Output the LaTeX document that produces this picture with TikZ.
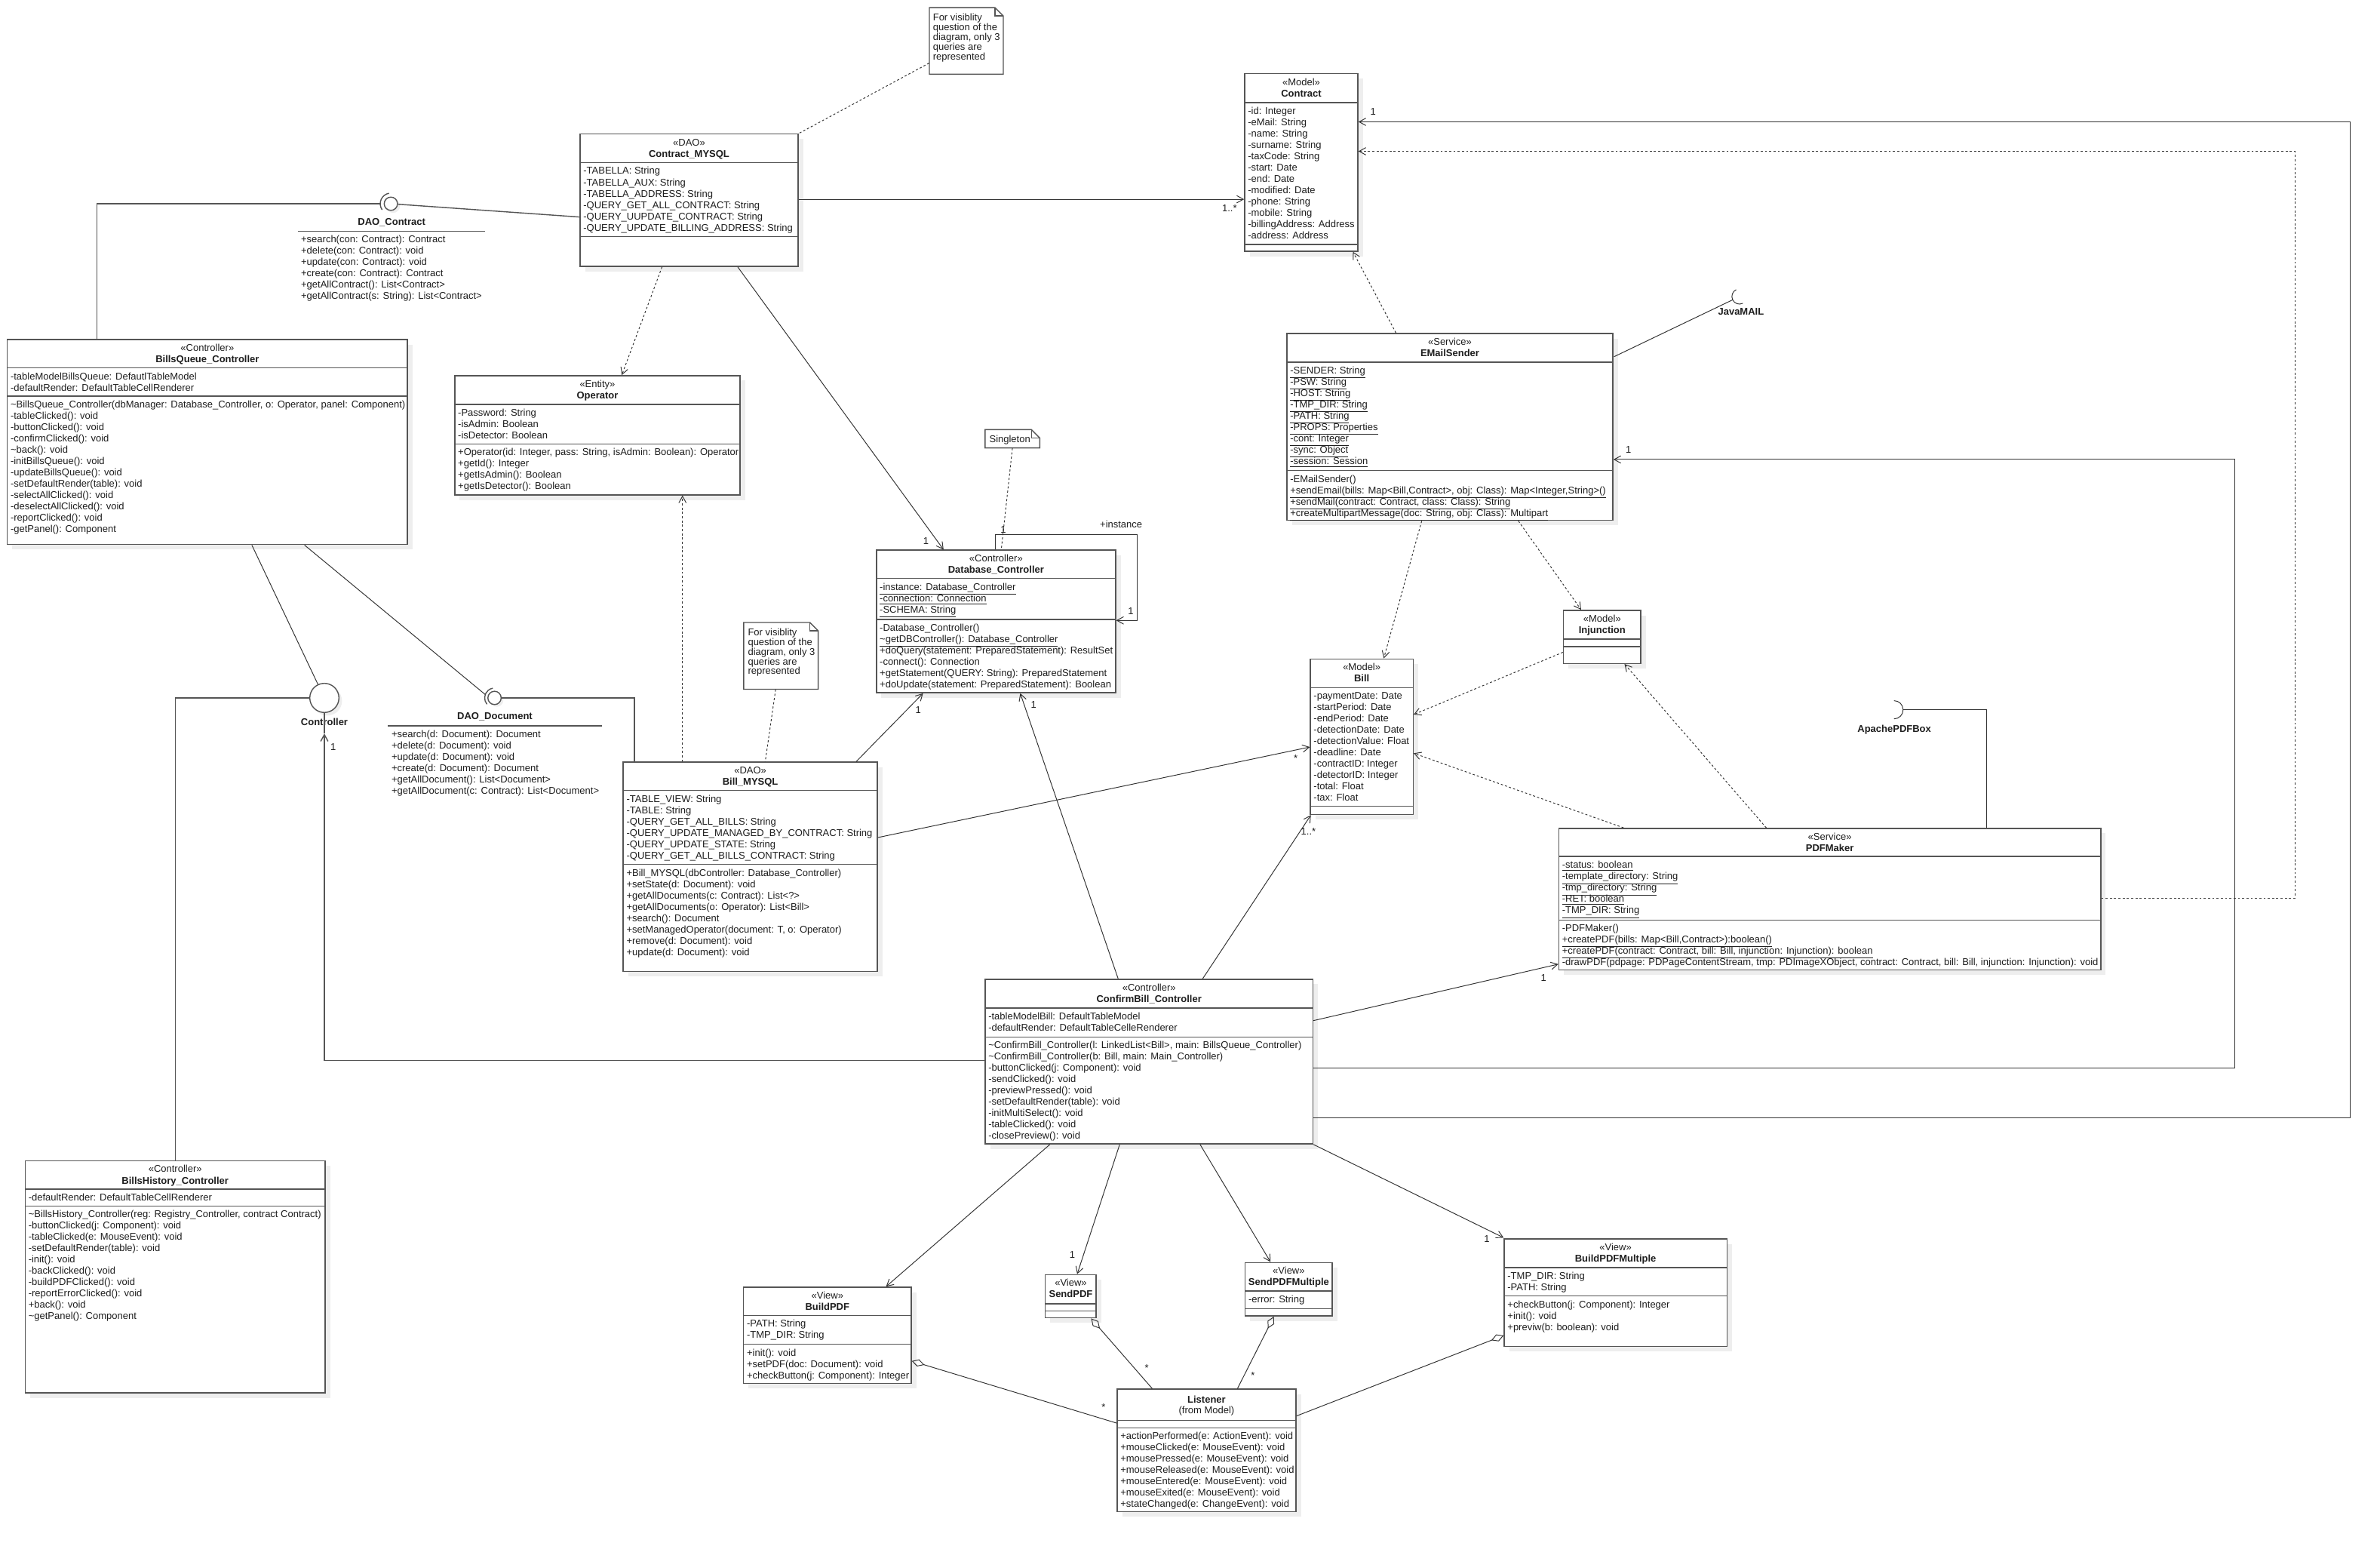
\documentclass[tikz,border=0pt]{standalone}
\usepackage{fontspec}
\setmainfont{Liberation Sans}
\usetikzlibrary{arrows.meta, calc, fit}

\definecolor{umlgray}{HTML}{555555}
\definecolor{umlshade}{HTML}{EEEEEE}
\definecolor{umltext}{HTML}{1E1E1E}

\newcommand{\umlfont}{\fontsize{7.35}{8.49}\selectfont}

\tikzset{
  umlbox/.style={draw=umlgray, line width=0.8pt, fill=white, inner sep=0pt},
  umlframe/.style={draw=umlgray, line width=0.8pt},
  shadow/.style={fill=umlshade, draw=none},
  ball/.style={circle, draw=umlgray, line width=0.8pt, fill=white, inner sep=0pt, minimum size=3.5mm},
  member/.style={anchor=base west, inner sep=0pt, font=\umlfont, text=umltext},
  stereo/.style={anchor=base, inner sep=0pt, font=\umlfont, text=umltext},
  ctitle/.style={anchor=base, inner sep=0pt, font=\umlfont\bfseries, text=umltext},
  lbl/.style={inner sep=0pt, font=\umlfont, text=umltext},
  link/.style={draw=black!80, line width=0.55pt},
  assoc/.style={link, -{Straight Barb[length=5pt,width=5.5pt]}},
  depend/.style={assoc, dash pattern=on 1.6pt off 1.6pt},
  notelink/.style={link, dash pattern=on 1.6pt off 1.6pt},
  aggr/.style={link, {Diamond[open,length=10pt,width=5.5pt]}-},
}

% class box: name, x1, y1, x2, y2, header bottom, attribute bottom, stereotype, title
\newcommand{\umlclass}[9]{%
  \fill[shadow] ({#2+3.3},{#3+3.3}) rectangle ({#4+3.3},{#5+3.3});
  \node[umlbox, fit={(#2,#3) (#4,#5)}] (#1) {};
  \draw[umlframe] (#2,#6) -- (#4,#6) (#2,#7) -- (#4,#7);
  \node[stereo] (#1-stereo) at ({(#2+#4)/2},{#3+7.7}) {#8};
  \node[ctitle] (#1-name) at ({(#2+#4)/2},{#3+15.2}) {#9};
}
% one line per member
\newcommand{\members}[4]{%
  \foreach \mem [count=\idx] in {#4} {\node[member] (#1-\idx) at (#2,{#3+(\idx-1)*7.46}) {\mem};}
}
\newcommand{\notelines}[4]{%
  \foreach \mem [count=\idx] in {#4} {\node[member] (#1-\idx) at (#2,{#3+(\idx-1)*6.45}) {\mem};}
}
% note with folded corner
\newcommand{\umlnote}[5]{%
  \node[inner sep=0pt, fit={(#2,#3) (#4,#5)}] (#1) {};
  \draw[umlframe, fill=white] (#2,#3) -- ({#4-5.5},#3) -- (#4,{#3+5.5}) -- (#4,#5) -- (#2,#5) -- cycle;
  \draw[umlframe] ({#4-5.5},#3) -- ({#4-5.5},{#3+5.5}) -- (#4,{#3+5.5});
}

\begin{document}
\begin{tikzpicture}[x=0.4mm, y=-0.4mm]
\useasboundingbox (0,0) rectangle (1568,1016);
\fill[white] (0,0) rectangle (1568,1016);

% ---------- classes
\umlclass{cmysql}{382.2}{88.3}{525.8}{175.5}{107.2}{155.7}{«DAO»}{Contract\_MYSQL}
\members{cmysql-a}{384.2}{114.8}{-TABELLA: String, -TABELLA\_AUX: String, -TABELLA\_ADDRESS: String, -QUERY\_GET\_ALL\_CONTRACT: String, -QUERY\_UUPDATE\_CONTRACT: String, -QUERY\_UPDATE\_BILLING\_ADDRESS: String}

\umlclass{contract}{820}{48.6}{894.6}{165.5}{67.6}{161}{«Model»}{Contract}
\members{contract-a}{822}{75.2}{-id: Integer, -eMail: String, -name: String, -surname: String, -taxCode: String, -start: Date, -end: Date, -modified: Date, -phone: String, -mobile: String, -billingAddress: Address, -address: Address}

\umlclass{email}{847.8}{219.6}{1062.6}{342.8}{238.6}{310}{«Service»}{EMailSender}
\members{email-a}{849.8}{246.2}{\underline{-SENDER: String}, \underline{-PSW: String}, \underline{-HOST: String}, \underline{-TMP\_DIR: String}, \underline{-PATH: String}, \underline{-PROPS: Properties}, \underline{-cont: Integer}, \underline{-sync: Object}, \underline{-session: Session}}
\members{email-o}{849.8}{317.6}{-EMailSender(), \underline{+sendEmail(bills: Map<Bill,Contract>, obj: Class): Map<Integer,String>()}, \underline{+sendMail(contract: Contract, class: Class): String}, \underline{+createMultipartMessage(doc: String, obj: Class): Multipart}}

\umlclass{oper}{299.6}{247.4}{487.6}{326}{266.4}{292.4}{«Entity»}{Operator}
\members{oper-a}{301.6}{274}{-Password: String, -isAdmin: Boolean, -isDetector: Boolean}
\members{oper-o}{301.6}{300}{{+Operator(id: Integer, pass: String, isAdmin: Boolean): Operator}, +getId(): Integer, +getIsAdmin(): Boolean, +getIsDetector(): Boolean}

\umlclass{dbc}{577.4}{362.4}{735}{456.3}{381}{408}{«Controller»}{Database\_Controller}
\members{dbc-a}{579.4}{388.8}{\underline{-instance: Database\_Controller}, \underline{-connection: Connection}, \underline{-SCHEMA: String}}
\members{dbc-o}{579.4}{415.6}{-Database\_Controller(), \underline{\textasciitilde getDBController(): Database\_Controller}, +doQuery(statement: PreparedStatement): ResultSet, -connect(): Connection, +getStatement(QUERY: String): PreparedStatement, +doUpdate(statement: PreparedStatement): Boolean}

\umlclass{bq}{4.8}{223.7}{268.4}{358.7}{242.4}{261}{«Controller»}{BillsQueue\_Controller}
\members{bq-a}{6.8}{250}{-tableModelBillsQueue: DefautlTableModel, -defaultRender: DefaultTableCellRenderer}
\members{bq-o}{6.8}{268.8}{{\textasciitilde BillsQueue\_Controller(dbManager: Database\_Controller, o: Operator, panel: Component)}, -tableClicked(): void, -buttonClicked(): void, -confirmClicked(): void, \textasciitilde back(): void, -initBillsQueue(): void, -updateBillsQueue(): void, -setDefaultRender(table): void, -selectAllClicked(): void, -deselectAllClicked(): void, -reportClicked(): void, -getPanel(): Component}

\umlclass{bmysql}{410.6}{502}{578}{640}{520.7}{569.4}{«DAO»}{Bill\_MYSQL}
\members{bmysql-a}{412.6}{528.3}{-TABLE\_VIEW: String, -TABLE: String, -QUERY\_GET\_ALL\_BILLS: String, -QUERY\_UPDATE\_MANAGED\_BY\_CONTRACT: String, -QUERY\_UPDATE\_STATE: String, -QUERY\_GET\_ALL\_BILLS\_CONTRACT: String}
\members{bmysql-o}{412.6}{577}{+Bill\_MYSQL(dbController: Database\_Controller), +setState(d: Document): void, +getAllDocuments(c: Contract): List<?>, +getAllDocuments(o: Operator): List<Bill>, +search(): Document, {+setManagedOperator(document: T, o: Operator)}, +remove(d: Document): void, +update(d: Document): void}

\umlclass{bill}{863.3}{434}{931}{536.5}{453}{531}{«Model»}{Bill}
\members{bill-a}{865.3}{460.6}{-paymentDate: Date, -startPeriod: Date, -endPeriod: Date, -detectionDate: Date, -detectionValue: Float, -deadline: Date, -contractID: Integer, -detectorID: Integer, -total: Float, -tax: Float}

\umlclass{inj}{1030}{402}{1081}{437}{421}{426}{«Model»}{Injunction}

\umlclass{pdfm}{1027}{545.6}{1384}{639}{564}{606}{«Service»}{PDFMaker}
\members{pdfm-a}{1029}{572}{\underline{-status: boolean}, \underline{-template\_directory: String}, \underline{-tmp\_directory: String}, \underline{-RET: boolean}, \underline{-TMP\_DIR: String}}
\members{pdfm-o}{1029}{613.6}{-PDFMaker(), \underline{+createPDF(bills: Map<Bill,Contract>):boolean()}, \underline{+createPDF(contract: Contract, bill: Bill, injunction: Injunction): boolean}, {-drawPDF(pdpage: PDPageContentStream, tmp: PDImageXObject, contract: Contract, bill: Bill, injunction: Injunction): void}}

\umlclass{cb}{649}{645}{865}{753.5}{664}{683}{«Controller»}{ConfirmBill\_Controller}
\members{cb-a}{651}{671.6}{-tableModelBill: DefaultTableModel, -defaultRender: DefaultTableCelleRenderer}
\members{cb-o}{651}{690.6}{{\textasciitilde ConfirmBill\_Controller(l: LinkedList<Bill>, main: BillsQueue\_Controller)}, {\textasciitilde ConfirmBill\_Controller(b: Bill, main: Main\_Controller)}, -buttonClicked(j: Component): void, -sendClicked(): void, -previewPressed(): void, -setDefaultRender(table): void, -initMultiSelect(): void, -tableClicked(): void, -closePreview(): void}

\umlclass{bh}{16.6}{764.6}{214.2}{917.5}{783.3}{794.4}{«Controller»}{BillsHistory\_Controller}
\members{bh-a}{18.6}{790.9}{-defaultRender: DefaultTableCellRenderer}
\members{bh-o}{18.6}{802}{{\textasciitilde BillsHistory\_Controller(reg: Registry\_Controller, contract Contract)}, -buttonClicked(j: Component): void, -tableClicked(e: MouseEvent): void, -setDefaultRender(table): void, -init(): void, -backClicked(): void, -buildPDFClicked(): void, -reportErrorClicked(): void, +back(): void, \textasciitilde getPanel(): Component}

\umlclass{bpdf}{489.9}{847.8}{600.3}{911.2}{866.5}{885.5}{«View»}{BuildPDF}
\members{bpdf-a}{491.9}{874.1}{-PATH: String, -TMP\_DIR: String}
\members{bpdf-o}{491.9}{893.1}{+init(): void, +setPDF(doc: Document): void, +checkButton(j: Component): Integer}

\umlclass{spdf}{688.7}{839.6}{722.2}{868.1}{858.7}{863.5}{«View»}{SendPDF}

\umlclass{spdfm}{820.4}{831.6}{877.7}{866.8}{850.4}{862}{«View»}{SendPDFMultiple}
\members{spdfm-a}{822.4}{858}{-error: String}

\umlclass{bpdfm}{991}{816}{1137.7}{887}{835}{853.7}{«View»}{BuildPDFMultiple}
\members{bpdfm-a}{993}{842.6}{-TMP\_DIR: String, -PATH: String}
\members{bpdfm-o}{993}{861.3}{+checkButton(j: Component): Integer, +init(): void, +previw(b: boolean): void}

\umlclass{lis}{736}{915}{853.8}{995.6}{935.6}{940.5}{}{}
\node[ctitle] (lis-title) at (794.9,924.3) {Listener};
\node[stereo] (lis-from) at (794.9,931.3) {(from Model)};
\members{lis-o}{738}{948.1}{+actionPerformed(e: ActionEvent): void, +mouseClicked(e: MouseEvent): void, +mousePressed(e: MouseEvent): void, +mouseReleased(e: MouseEvent): void, +mouseEntered(e: MouseEvent): void, +mouseExited(e: MouseEvent): void, +stateChanged(e: ChangeEvent): void}

% ---------- interfaces
\fill[shadow] (259,135.7) circle[radius=4.5];
\node[ball] (daoc) at (257.5,134.2) {};
\draw[umlframe] ([shift={(145:7)}]daoc.center) arc[start angle=145, end angle=260, radius=7];
\node[ctitle] (daoc-name) at (258,148.4) {DAO\_Contract};
\draw[umlframe] (196.5,152.3) -- (319.5,152.3);
\members{daoc-o}{198.2}{159.8}{+search(con: Contract): Contract, +delete(con: Contract): void, +update(con: Contract): void, +create(con: Contract): Contract, +getAllContract(): List<Contract>, +getAllContract(s: String): List<Contract>}

\fill[shadow] (327.3,461.2) circle[radius=4.3];
\node[ball] (daod) at (325.8,459.7) {};
\draw[umlframe] ([shift={(140:6.5)}]daod.center) arc[start angle=140, end angle=260, radius=6.5];
\node[ctitle] (daod-name) at (326,474) {DAO\_Document};
\draw[umlframe] (255.5,478) -- (396.6,478);
\members{daod-o}{257.8}{485.7}{+search(d: Document): Document, +delete(d: Document): void, +update(d: Document): void, +create(d: Document): Document, +getAllDocument(): List<Document>, +getAllDocument(c: Contract): List<Document>}

\fill[shadow] (215.7,461.7) circle[radius=9.6];
\node[circle, draw=umlgray, line width=0.8pt, fill=white, inner sep=0pt, minimum size=7.68mm] (ctrl) at (213.7,459.7) {};
\node[ctitle] (ctrl-name) at (213.7,477.9) {Controller};

\coordinate (jmail) at (1146,195.3);
\draw[link] ([shift={(64:5)}]jmail) arc[start angle=64, end angle=244, radius=5];
\node[ctitle] (jmail-name) at (1147,207.6) {JavaMAIL};

\coordinate (apdf) at (1247.8,467.5);
\draw[link] ([shift={(-90:6)}]apdf) arc[start angle=-90, end angle=90, radius=6];
\node[ctitle] (apdf-name) at (1248,482.3) {ApachePDFBox};

% ---------- notes
\umlnote{note1}{612.3}{5}{661}{48.9}
\notelines{note1-t}{614.5}{13.9}{For visiblity, question of the, {diagram, only 3}, queries are, represented}
\umlnote{note2}{490}{410}{539}{454}
\notelines{note2-t}{492.6}{418.5}{For visiblity, question of the, {diagram, only 3}, queries are, represented}
\umlnote{single}{649}{283}{685}{295}
\node[lbl] (single-t) at (665.3,289.6) {Singleton};

% ---------- connectors
\draw[notelink] ($(note1.south west)+(0,-7.5)$) -- (cmysql.north east);
\draw[notelink] ($(note2.south)+(-3.5,0)$) -- ($(bmysql.north west)+(93.9,0)$);
\draw[notelink] (single.south) -- ($(dbc.north west)+(82.6,0)$);

\draw[umlframe] ($(bq.north west)+(59.4,0)$) |- ([shift={(180:7)}]daoc.center);
\draw[umlframe] (daoc) -- ($(cmysql.north west)+(0,55)$);
\draw[link] ($(bq.south west)+(161.5,0)$) -- (ctrl);
\draw[link] ($(bq.south west)+(196.2,0)$) -- ([shift={(200:6.5)}]daod.center);
\draw[umlframe] ($(bh.north west)+(99.3,0)$) |- (ctrl);
\draw[umlframe] (daod) -| ($(bmysql.north west)+(7.7,0)$);
\draw[umlframe] (ctrl.south) -- ($(ctrl.south)+(0,13.5)$);
\draw[assoc, umlgray, line width=0.8pt] ($(cb.north west)+(0,54)$) -| ($(ctrl.south)+(0,13.5)$);

\draw[assoc] ($(cmysql.north east)+(0,43.3)$) -- ($(contract.north west)+(0,83)$);
\draw[assoc] ($(cmysql.south west)+(104.2,0)$) -- ($(dbc.north west)+(44.6,0)$);
\draw[depend] ($(cmysql.south west)+(54.3,0)$) -- ($(oper.north west)+(110.4,0)$);
\draw[assoc] ($(dbc.north west)+(78.6,0)$) |- ($(dbc.north east)+(14,-9.9)$) |- ($(dbc.north east)+(0,46.6)$);

\draw[depend] ($(bmysql.north west)+(39.4,0)$) -- ($(oper.south west)+(150.4,0)$);
\draw[assoc] ($(bmysql.north east)+(-14.3,0)$) -- ($(dbc.south west)+(31.1,0)$);
\draw[assoc] ($(bmysql.north east)+(0,50)$) -- ($(bill.north west)+(0,58.4)$);

\draw[assoc] ($(cb.north west)+(88,0)$) -- ($(dbc.south west)+(95.1,0)$);
\draw[assoc] ($(cb.north west)+(143.7,0)$) -- ($(bill.south west)+(0.7,0)$);
\draw[assoc] ($(cb.north east)+(0,27.6)$) -- ($(pdfm.south west)+(0,-4.3)$);
\draw[assoc] ($(cb.north east)+(0,59)$) -| ($(email.north east)+(409.4,83.4)$) -- ($(email.north east)+(0,83.4)$);
\draw[assoc] ($(cb.north east)+(0,91.6)$) -| ($(contract.north east)+(653.4,32)$) -- ($(contract.north east)+(0,32)$);
\draw[depend] ($(pdfm.north east)+(0,46.4)$) -| ($(contract.north east)+(616.9,51.4)$) -- ($(contract.north east)+(0,51.4)$);

\draw[depend] ($(email.north west)+(72.2,0)$) -- ($(contract.south east)+(-3.6,0)$);
\draw[link] ($(email.north east)+(0.4,15.7)$) -- ([shift={(154:5)}]jmail);
\draw[depend] ($(email.south west)+(89.2,0)$) -- ($(bill.north west)+(48.7,0)$);
\draw[depend] ($(email.south west)+(152.9,0)$) -- ($(inj.north west)+(12,0)$);
\draw[depend] ($(inj.north west)+(0,28)$) -- ($(bill.north east)+(0,37)$);
\draw[depend] ($(pdfm.north west)+(43,0)$) -- ($(bill.north east)+(0,62.5)$);
\draw[depend] ($(pdfm.north west)+(137,0)$) -- ($(inj.south west)+(40.6,0)$);
\draw[link] ([shift={(0:6)}]apdf) -| ($(pdfm.north west)+(282,0)$);

\draw[assoc] ($(cb.south west)+(43,0)$) -- ($(bpdf.north east)+(-16.9,0)$);
\draw[assoc] ($(cb.south west)+(89,0)$) -- ($(spdf.north west)+(21.3,0)$);
\draw[assoc] ($(cb.south west)+(142,0)$) -- ($(spdfm.north west)+(17,0)$);
\draw[assoc] (cb.south east) -- ($(bpdfm.north west)+(0,-0.4)$);

\draw[aggr] ($(bpdf.north east)+(0,49)$) -- ($(lis.north west)+(0,22.7)$);
\draw[aggr] ($(spdf.south west)+(30.5,0)$) -- ($(lis.north west)+(23.5,0)$);
\draw[aggr] ($(spdfm.south west)+(19.2,0)$) -- ($(lis.north west)+(79.6,0)$);
\draw[aggr] ($(bpdfm.north west)+(0,64)$) -- ($(lis.north east)+(0,18)$);

% ---------- multiplicities
\node[lbl] (m1) at (810,137) {1..*};
\node[lbl] (m2) at (610,356.5) {1};
\node[lbl] (m3) at (738.6,345.5) {+instance};
\node[lbl] (m4) at (745,402.6) {1};
\node[lbl] (m5) at (661,348.7) {1};
\node[lbl] (m6) at (219.5,492) {1};
\node[lbl] (m7) at (605,467.5) {1};
\node[lbl] (m8) at (853.7,499.5) {*};
\node[lbl] (m9) at (681,464) {1};
\node[lbl] (m10) at (862,547.7) {1..*};
\node[lbl] (m11) at (1017,644) {1};
\node[lbl] (m12) at (1072.8,296) {1};
\node[lbl] (m13) at (904.6,73.5) {1};
\node[lbl] (m14) at (706.5,826.7) {1};
\node[lbl] (m15) at (979.6,816) {1};
\node[lbl] (m16) at (727,927) {*};
\node[lbl] (m17) at (755.5,901) {*};
\node[lbl] (m18) at (825.5,906) {*};
\end{tikzpicture}
\end{document}
